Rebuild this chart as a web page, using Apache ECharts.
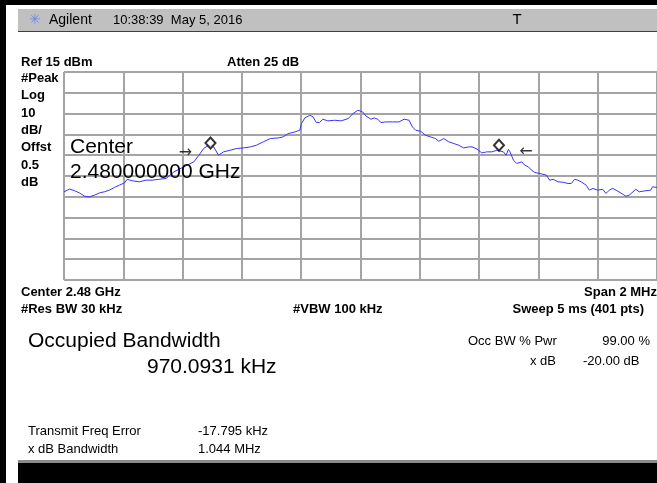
<!DOCTYPE html>
<html>
<head>
<meta charset="utf-8">
<script src="https://cdn.jsdelivr.net/npm/echarts@6/dist/echarts.min.js"></script>
<style>
html,body{margin:0;padding:0;background:#fff;}
#c{width:657px;height:483px;}
</style>
</head>
<body>
<div id="c"></div>
<script>
// Frequency offset from center (kHz), center 2.48 GHz, span 2 MHz
var freqKHz = [-1000,-981,-964,-947,-931,-914,-897,-880,-864,-847,
-830,-813,-796,-787,-770,-746,-723,-703,-680,-656,
-629,-596,-562,-545,-529,-512,-495,-479,-462,-439,
-418,-395,-371,-351,-328,-304,-277,-261,-244,-221,
-205,-199,-188,-171,-160,-149,-138,-127,-110,-87,
-65,-42,-25,-9,7,18,35,47,58,69,
85,108,130,147,164,175,186,203,219,236,
253,264,281,298,315,331,348,365,376,393,
409,426,443,460,482,491,499,504,516,527,
544,554,566,577,588,605,627,638,650,666,
683,700,711,722,733,744,761,772,784,800,
817,828,839,851,862,884,895,906,929,940,
956,979,985,1000];
// Trace level (dBm)
var levelDbm = [-42.6,-41.3,-42.1,-43.2,-44.7,-45.0,-44.2,-43.1,-42.6,-41.8,
-40.5,-39.4,-38.3,-36.6,-37.3,-37.8,-37.0,-37.0,-36.6,-36.2,
-33.0,-30.6,-28.2,-25.0,-21.8,-20.2,-21.0,-25.0,-23.4,-22.6,
-21.8,-21.5,-21.0,-20.2,-18.6,-17.0,-16.7,-16.2,-14.6,-13.8,
-13.0,-9.8,-7.1,-5.8,-6.6,-9.3,-9.3,-7.7,-8.5,-8.2,
-8.5,-7.4,-5.0,-3.4,-4.2,-6.1,-7.7,-7.1,-7.7,-9.3,
-9.0,-9.0,-9.0,-7.7,-8.2,-11.4,-13.0,-13.5,-15.4,-16.2,
-17.0,-18.3,-17.0,-18.6,-19.4,-20.2,-21.5,-21.0,-21.0,-22.1,
-23.9,-23.4,-23.4,-22.6,-23.4,-25.0,-22.2,-23.4,-27.4,-29.0,
-28.2,-29.8,-30.6,-32.2,-33.3,-33.8,-34.6,-37.0,-36.6,-37.8,
-38.0,-38.6,-38.6,-36.6,-37.0,-37.8,-39.4,-41.8,-41.0,-41.8,
-41.4,-43.4,-41.8,-41.0,-41.8,-43.7,-44.7,-44.2,-41.4,-42.6,
-42.2,-41.8,-40.2,-40.5];
// OBW markers
var markerKHz = [-506, 467];
var markerDbm = [-19.1, -20.2];
// OBW edge arrows
var arrowKHz = [-590, 558];
var arrowDbm = [-23.7, -23.4];
var arrowText = ['\u2192', '\u2190'];

var refLevel = 15, dbPerDiv = 10, divs = 10;
var spanKHz = 2000;

var trace = freqKHz.map(function(f,i){return [f, levelDbm[i]];});
var markers = markerKHz.map(function(f,i){return [f, markerDbm[i]];});
var arrows = arrowKHz.map(function(f,i){return {value:[f, arrowDbm[i]], txt: arrowText[i]};});

var F = '"Liberation Sans", Arial, sans-serif';
function txtAt(x,y,s,opt){
  opt = opt||{};
  return {type:'text', x:x, y:y, z:100, silent:true,
    style:{text:s, fill:opt.fill||'#000', font:(opt.bold?'bold ':'')+(opt.size||13)+'px '+(opt.family||F),
      align:opt.align||'left', verticalAlign:'middle'}};
}

var leftLabels = ['#Peak','Log','10','dB/','Offst','0.5','dB'];
var graphics = [
  {type:'rect', shape:{x:0,y:0,width:657,height:5}, style:{fill:'#000'}, z:90},
  {type:'rect', shape:{x:0,y:0,width:6,height:483}, style:{fill:'#000'}, z:90},
  {type:'rect', shape:{x:18,y:9,width:639,height:22}, style:{fill:'#c0c0c0'}, z:90},
  {type:'rect', shape:{x:18,y:31,width:639,height:1}, style:{fill:'#404040'}, z:90},
  {type:'rect', shape:{x:18,y:460,width:639,height:3}, style:{fill:'#8a8a8a'}, z:90},
  {type:'rect', shape:{x:18,y:463,width:639,height:20}, style:{fill:'#000'}, z:90},
  txtAt(29,20,'\u2733',{size:14, fill:'#6b8fe0', family:'"DejaVu Sans"'}),
  txtAt(49,20,'Agilent',{size:14}),
  txtAt(113,20,'10:38:39  May 5, 2016',{size:13}),
  txtAt(517,20,'T',{size:15, align:'center'}),
  txtAt(21,62,'Ref 15 dBm',{bold:true}),
  txtAt(227,62,'Atten 25 dB',{bold:true}),
  txtAt(70,147,'Center',{size:21}),
  txtAt(70,172,'2.480000000 GHz',{size:21}),
  txtAt(21,292,'Center 2.48 GHz',{bold:true}),
  txtAt(657,292,'Span 2 MHz',{bold:true, align:'right'}),
  txtAt(21,309,'#Res BW 30 kHz',{bold:true}),
  txtAt(293,309,'#VBW 100 kHz',{bold:true}),
  txtAt(644,309,'Sweep 5 ms (401 pts)',{bold:true, align:'right'}),
  txtAt(28,341,'Occupied Bandwidth',{size:21}),
  txtAt(147,367,'970.0931 kHz',{size:21}),
  txtAt(468,341,'Occ BW % Pwr',{size:13}),
  txtAt(650,341,'99.00 %',{size:13, align:'right'}),
  txtAt(556,361,'x dB',{size:13, align:'right'}),
  txtAt(583,361,'-20.00 dB',{size:13}),
  txtAt(28,431,'Transmit Freq Error',{size:13}),
  txtAt(198,431,'-17.795 kHz',{size:13}),
  txtAt(28,449,'x dB Bandwidth',{size:13}),
  txtAt(198,449,'1.044 MHz',{size:13})
];
leftLabels.forEach(function(s,i){ graphics.push(txtAt(21, 78.3 + i*17.4, s, {bold:true})); });

var chart = echarts.init(document.getElementById('c'), null, {renderer:'canvas'});
chart.setOption({
  animation:false,
  backgroundColor:'#fff',
  grid:{left:64, top:72, width:597, height:208, show:false},
  xAxis:{type:'value', min:-spanKHz/2, max:spanKHz/2, interval:spanKHz/divs,
    axisLine:{show:false}, axisTick:{show:false}, axisLabel:{show:false},
    splitLine:{show:true, lineStyle:{color:'#a4a4a4', width:2}}},
  yAxis:{type:'value', min:refLevel-dbPerDiv*divs, max:refLevel, interval:dbPerDiv,
    axisLine:{show:false}, axisTick:{show:false}, axisLabel:{show:false},
    splitLine:{show:true, lineStyle:{color:'#a4a4a4', width:2}}},
  series:[
    {type:'line', data:trace, showSymbol:false, lineStyle:{color:'#3636f8', width:1}, z:3},
    {type:'scatter', data:markers, symbol:'diamond', symbolSize:[10,11],
      itemStyle:{color:'#fff', borderColor:'#000', borderWidth:2}, z:5},
    {type:'scatter', data:arrows, symbol:'circle', symbolSize:1, itemStyle:{color:'rgba(0,0,0,0)'},
      label:{show:true, position:'inside', formatter:function(p){return p.data.txt;}, color:'#000', fontSize:16, fontFamily:'"DejaVu Sans"'}, z:5}
  ],
  graphic:graphics
});
</script>
</body>
</html>
